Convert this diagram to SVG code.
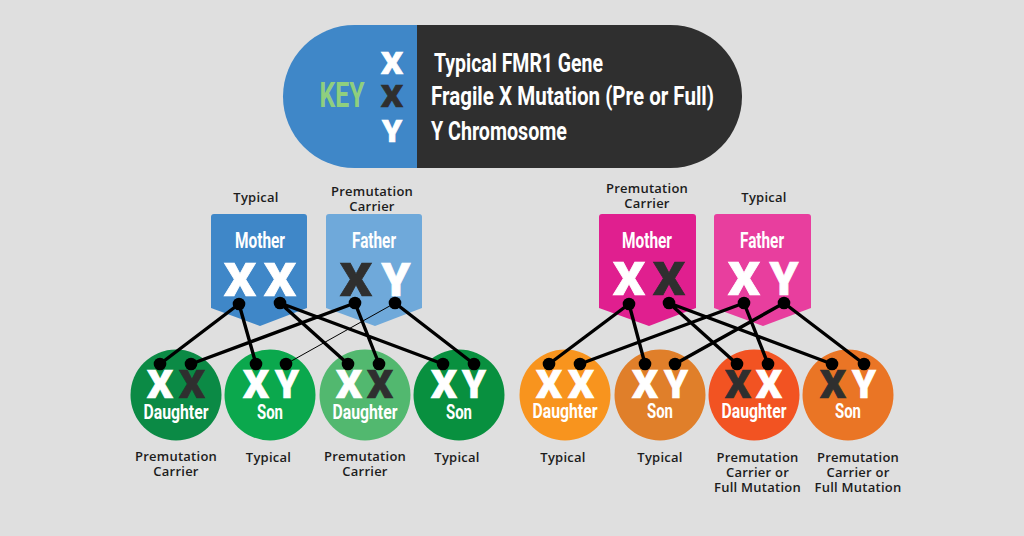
<svg xmlns="http://www.w3.org/2000/svg" width="1024" height="536" viewBox="0 0 1024 536">
<style>
text{text-anchor:middle}
.c{font-family:"Open Sans","Liberation Sans",sans-serif;font-weight:600;font-size:13px;fill:#1c1c1c;letter-spacing:.25px}
.h{font-family:"Roboto","Liberation Sans",sans-serif;font-weight:700;fill:#fff}
.l{font-size:21px}.p{font-size:22px}
.k{font-size:26px;text-anchor:start}
.b{font-family:"Roboto","Liberation Sans",sans-serif;font-weight:900;fill:#fff;stroke:#fff;stroke-width:.7}
.d{fill:#2f2f2f;stroke:#2f2f2f}
.s{font-size:38px}.m{font-size:46px}.t{font-size:32px}
.w{stroke:#000;stroke-width:3.4;fill:none;stroke-linecap:round}
.n{stroke:#000;stroke-width:1;fill:none}
circle.o{fill:#000}
</style>
<rect width="1024" height="536" fill="#dfdfdf"/>
<g id="key">
<path d="M417 25H354.500A71.500 71.500 0 0 0 354.500 168H417Z" fill="#3f87c8"/>
<path d="M417 25H670.500A71.500 71.500 0 0 1 670.500 168H417Z" fill="#2f2f2f"/>
<text class="h" x="342" y="107" font-size="35" style="fill:#8fcf7e" textLength="45" lengthAdjust="spacingAndGlyphs">KEY</text>
<text class="b t" x="392" y="74" textLength="22" lengthAdjust="spacingAndGlyphs">X</text><text class="b t d" x="392" y="107" textLength="22" lengthAdjust="spacingAndGlyphs">X</text><text class="b t" x="392" y="142">Y</text>
<text class="h k" x="434" y="72" textLength="169" lengthAdjust="spacingAndGlyphs">Typical FMR1 Gene</text>
<text class="h k" x="431" y="105" textLength="283" lengthAdjust="spacingAndGlyphs">Fragile X Mutation (Pre or Full)</text>
<text class="h k" x="431" y="140" textLength="136" lengthAdjust="spacingAndGlyphs">Y Chromosome</text>
</g>
<g id="left-mother">
<path d="M214 214H304a3 3 0 0 1 3 3V308L260 326L211 308V217a3 3 0 0 1 3-3Z" fill="#3f87c8"/>
<text class="h p" x="260" y="248" textLength="50" lengthAdjust="spacingAndGlyphs">Mother</text>
<text class="b m" x="240" y="296" textLength="32" lengthAdjust="spacingAndGlyphs">X</text><text class="b m" x="280" y="296" textLength="32" lengthAdjust="spacingAndGlyphs">X</text>
<text class="c" x="256" y="202">Typical</text>
</g>
<g id="left-father">
<path d="M329 214H419a3 3 0 0 1 3 3V308L375 326L326 308V217a3 3 0 0 1 3-3Z" fill="#6fa9da"/>
<text class="h p" x="374" y="248" textLength="44" lengthAdjust="spacingAndGlyphs">Father</text>
<text class="b m d" x="356" y="296" textLength="32" lengthAdjust="spacingAndGlyphs">X</text><text class="b m" x="396" y="296">Y</text>
<text class="c" x="372" y="196">Premutation</text><text class="c" x="372" y="211">Carrier</text>
</g>
<g id="left-daughter-1">
<circle cx="176" cy="395" r="45.500" fill="#0b8a45"/>
<text class="b s" x="160" y="398" textLength="26" lengthAdjust="spacingAndGlyphs">X</text><text class="b s d" x="192" y="398" textLength="26" lengthAdjust="spacingAndGlyphs">X</text>
<text class="h l" x="176" y="419" textLength="65" lengthAdjust="spacingAndGlyphs">Daughter</text>
<text class="c" x="176" y="461">Premutation</text><text class="c" x="176" y="476">Carrier</text>
</g>
<g id="left-son-1">
<circle cx="270" cy="395" r="45.500" fill="#0ba84d"/>
<text class="b s" x="256" y="398" textLength="26" lengthAdjust="spacingAndGlyphs">X</text><text class="b s" x="287" y="398">Y</text>
<text class="h l" x="270" y="419" textLength="26" lengthAdjust="spacingAndGlyphs">Son</text>
<text class="c" x="268.500" y="462">Typical</text>
</g>
<g id="left-daughter-2">
<circle cx="365" cy="395" r="45.500" fill="#52b86f"/>
<text class="b s" x="349" y="398" textLength="26" lengthAdjust="spacingAndGlyphs">X</text><text class="b s d" x="380" y="398" textLength="26" lengthAdjust="spacingAndGlyphs">X</text>
<text class="h l" x="365" y="419" textLength="65" lengthAdjust="spacingAndGlyphs">Daughter</text>
<text class="c" x="365" y="461">Premutation</text><text class="c" x="365" y="476">Carrier</text>
</g>
<g id="left-son-2">
<circle cx="459" cy="395" r="45.500" fill="#08903f"/>
<text class="b s" x="444" y="398" textLength="26" lengthAdjust="spacingAndGlyphs">X</text><text class="b s" x="474" y="398">Y</text>
<text class="h l" x="459" y="419" textLength="26" lengthAdjust="spacingAndGlyphs">Son</text>
<text class="c" x="457" y="462">Typical</text>
</g>
<g id="right-mother">
<path d="M602 214H693a3 3 0 0 1 3 3V308L649 326L599 308V217a3 3 0 0 1 3-3Z" fill="#e01f8f"/>
<text class="h p" x="647" y="248" textLength="50" lengthAdjust="spacingAndGlyphs">Mother</text>
<text class="b m" x="629" y="295" textLength="32" lengthAdjust="spacingAndGlyphs">X</text><text class="b m d" x="669" y="295" textLength="32" lengthAdjust="spacingAndGlyphs">X</text>
<text class="c" x="647" y="193">Premutation</text><text class="c" x="647" y="208">Carrier</text>
</g>
<g id="right-father">
<path d="M717 214H808a3 3 0 0 1 3 3V308L763 326L714 308V217a3 3 0 0 1 3-3Z" fill="#e83e9e"/>
<text class="h p" x="762" y="248" textLength="44" lengthAdjust="spacingAndGlyphs">Father</text>
<text class="b m" x="744" y="295" textLength="32" lengthAdjust="spacingAndGlyphs">X</text><text class="b m" x="784" y="295">Y</text>
<text class="c" x="764" y="202">Typical</text>
</g>
<g id="right-daughter-1">
<circle cx="565" cy="395" r="45.500" fill="#f8941e"/>
<text class="b s" x="549" y="398" textLength="26" lengthAdjust="spacingAndGlyphs">X</text><text class="b s" x="581" y="398" textLength="26" lengthAdjust="spacingAndGlyphs">X</text>
<text class="h l" x="565" y="418" textLength="65" lengthAdjust="spacingAndGlyphs">Daughter</text>
<text class="c" x="563" y="462">Typical</text>
</g>
<g id="right-son-1">
<circle cx="660" cy="395" r="45.500" fill="#e07f2a"/>
<text class="b s" x="645" y="398" textLength="26" lengthAdjust="spacingAndGlyphs">X</text><text class="b s" x="676" y="398">Y</text>
<text class="h l" x="660" y="418" textLength="26" lengthAdjust="spacingAndGlyphs">Son</text>
<text class="c" x="660" y="462">Typical</text>
</g>
<g id="right-daughter-2">
<circle cx="754" cy="395" r="45.500" fill="#f25322"/>
<text class="b s d" x="738" y="398" textLength="26" lengthAdjust="spacingAndGlyphs">X</text><text class="b s" x="769" y="398" textLength="26" lengthAdjust="spacingAndGlyphs">X</text>
<text class="h l" x="754" y="418" textLength="65" lengthAdjust="spacingAndGlyphs">Daughter</text>
<text class="c" x="757.500" y="462">Premutation</text><text class="c" x="757.500" y="477">Carrier or</text><text class="c" x="757.500" y="492">Full Mutation</text>
</g>
<g id="right-son-2">
<circle cx="848" cy="395" r="45.500" fill="#ea7525"/>
<text class="b s d" x="833" y="398" textLength="26" lengthAdjust="spacingAndGlyphs">X</text><text class="b s" x="864" y="398">Y</text>
<text class="h l" x="848" y="418" textLength="26" lengthAdjust="spacingAndGlyphs">Son</text>
<text class="c" x="858" y="462">Premutation</text><text class="c" x="858" y="477">Carrier or</text><text class="c" x="858" y="492">Full Mutation</text>
</g>
<g id="connectors">
<path class="w" d="M239 304L160 364M239 304L256 364M280 303L348 364M280 303L443 364M355 303L191 364M355 303L379 364M395 303L474 364"/>
<path class="n" d="M395 303L286 364"/>
<path class="w" d="M629 304L549 364M629 304L645 364M669 303L737 364M669 303L832 364M744 303L580 364M744 303L768 364M784 303L675 364M784 303L864 364"/>
<g>
<circle class="o" cx="239" cy="304" r="6.300"/><circle class="o" cx="280" cy="303" r="6.300"/><circle class="o" cx="355" cy="303" r="6.300"/><circle class="o" cx="395" cy="303" r="6.300"/>
<circle class="o" cx="160" cy="364" r="6.300"/><circle class="o" cx="191" cy="364" r="6.300"/><circle class="o" cx="256" cy="364" r="6.300"/><circle class="o" cx="286" cy="364" r="6.300"/><circle class="o" cx="348" cy="364" r="6.300"/><circle class="o" cx="379" cy="364" r="6.300"/><circle class="o" cx="443" cy="364" r="6.300"/><circle class="o" cx="474" cy="364" r="6.300"/>
<circle class="o" cx="629" cy="304" r="6.300"/><circle class="o" cx="669" cy="303" r="6.300"/><circle class="o" cx="744" cy="303" r="6.300"/><circle class="o" cx="784" cy="303" r="6.300"/>
<circle class="o" cx="549" cy="364" r="6.300"/><circle class="o" cx="580" cy="364" r="6.300"/><circle class="o" cx="645" cy="364" r="6.300"/><circle class="o" cx="675" cy="364" r="6.300"/><circle class="o" cx="737" cy="364" r="6.300"/><circle class="o" cx="768" cy="364" r="6.300"/><circle class="o" cx="832" cy="364" r="6.300"/><circle class="o" cx="864" cy="364" r="6.300"/>
</g>
</g>
</svg>
